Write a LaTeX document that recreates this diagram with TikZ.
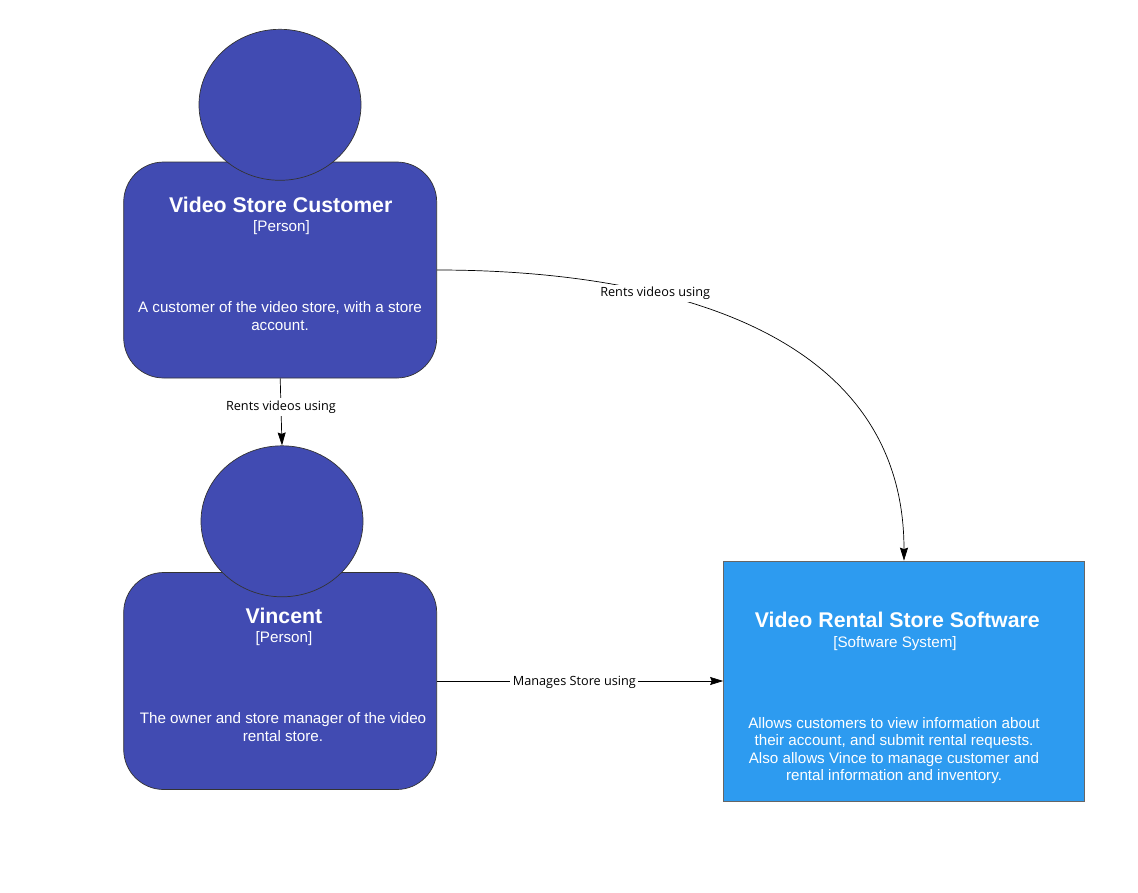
\documentclass[tikz,border=0pt]{standalone}
\usepackage{fontspec}
\setmainfont{Liberation Sans}
\newfontfamily\labelfont{Open Sans}
\usetikzlibrary{arrows.meta,shapes.geometric}
\definecolor{personblue}{HTML}{414BB2}
\definecolor{systemblue}{HTML}{2D9BF0}

\tikzset{
  personbody/.style={draw=black!80, fill=personblue, rounded corners=40pt, line width=0.7pt,
    minimum width=313pt, minimum height=216pt, inner sep=0pt},
  personhead/.style={draw=black!80, fill=personblue, ellipse, line width=0.7pt,
    minimum width=162pt, minimum height=151pt, inner sep=0pt},
  systembox/.style={draw=black!60, fill=systemblue, line width=0.7pt,
    minimum width=361pt, minimum height=240pt, inner sep=0pt},
  titletext/.style={text=white, font=\fontsize{21.3}{25}\selectfont\bfseries},
  typetext/.style={text=white, font=\fontsize{15.2}{17}\selectfont},
  bodytext/.style={text=white, align=center, font=\fontsize{15.2}{17.5}\selectfont},
  linktext/.style={fill=white, inner sep=2.5pt, text=black, font=\fontsize{12.7}{14}\labelfont},
  link/.style={draw=black, line width=0.7pt, -{Stealth[length=13pt,width=8pt,inset=1.5pt]}}
}

\begin{document}
\begin{tikzpicture}[x=1pt, y=-1pt]
        \useasboundingbox (0, 0) rectangle (1138, 892);

        % customer
        \node [personbody] (custbody) at (280.2, 270) {};
        \node [personhead] (custhead) at (280, 104.8) {};
        \node [titletext] (custtitle) at (280.7, 205) {Video Store Customer};
        \node [typetext] (custtype) at (281.5, 228) {[Person]};
        \node [bodytext] (custtext) at (280, 316) {A customer of the video store, with a store\\account.};

        % manager
        \node [personbody, minimum height=217pt] (vincebody) at (280.2, 681) {};
        \node [personhead] (vincehead) at (282, 521.3) {};
        \node [titletext] (vincetitle) at (284, 616) {Vincent};
        \node [typetext] (vincetype) at (284, 639) {[Person]};
        \node [bodytext] (vincetext) at (283, 727) {The owner and store manager of the video\\rental store.};

        % system
        \node [systembox] (system) at (904, 681) {};
        \node [titletext] (systitle) at (897.3, 620) {Video Rental Store Software};
        \node [typetext] (systype) at (895, 644) {[Software System]};
        \node [bodytext] (systext) at (894, 750.5) {Allows customers to view information about\\their account, and submit rental requests.\\Also allows Vince to manage customer and\\rental information and inventory.};

        \draw [link] (custbody.south) -- node [linktext, pos=0.43] {Rents videos using} (vincehead.north);
        \draw [link] (custbody.east) .. controls +(205, 0) and +(0, -240) .. node [linktext, pos=0.343] {Rents videos using} (system.north);
        \draw [link] (vincebody.east) -- node [linktext, pos=0.48, yshift=-1pt] {Manages Store using} (system.west);
\end{tikzpicture}
\end{document}
